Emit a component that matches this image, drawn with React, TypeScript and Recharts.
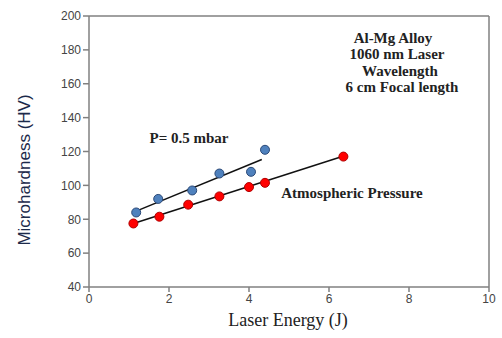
import React from 'react';
import { ScatterChart, Scatter, XAxis, YAxis, ReferenceLine, Customized } from 'recharts';

// measured points (Laser Energy J, Microhardness HV)
const lowPressurePts = [
  { x: 1.18, y: 84 },
  { x: 1.73, y: 92 },
  { x: 2.58, y: 97 },
  { x: 3.26, y: 107 },
  { x: 4.05, y: 108 },
  { x: 4.4, y: 121 },
];

const atmPressurePts = [
  { x: 1.11, y: 77.5 },
  { x: 1.76, y: 81.5 },
  { x: 2.48, y: 88.6 },
  { x: 3.26, y: 93.5 },
  { x: 4.0, y: 99 },
  { x: 4.4, y: 101.5 },
  { x: 6.36, y: 117 },
];

// fitted straight lines (end points)
const lowPressureFit = [
  { x: 1.18, y: 84.8 },
  { x: 4.32, y: 115.3 },
];
const atmPressureFit = [
  { x: 1.11, y: 77.5 },
  { x: 6.33, y: 117 },
];

const xTicks = [0, 2, 4, 6, 8, 10];
const yTicks = [40, 60, 80, 100, 120, 140, 160, 180, 200];
const infoLines = ['Al-Mg Alloy', '1060 nm Laser', 'Wavelength', '6 cm Focal length'];

const serif = '"Liberation Serif", "Times New Roman", serif';
const sans = '"Liberation Sans", Arial, sans-serif';
const axisColor = '#808080';

const NoShape = () => <g />;

const Annotations = () => (
  <g>
    <text x={24} y={170} transform="rotate(-90 24 170)" textAnchor="middle" dominantBaseline="central"
      fontFamily={sans} fontSize={17} fill="#1c2a4a">
      Microhardness (HV)
    </text>
    <text x={288} y={326} textAnchor="middle" fontFamily={serif} fontSize={18} fill="#222">
      Laser Energy (J)
    </text>
    {infoLines.map((t, i) => (
      <text key={t} x={[393, 397, 400, 402][i]} y={[43, 59, 76, 92][i]} textAnchor="middle"
        fontFamily={serif} fontWeight="bold" fontSize={15} fill="#222">
        {t}
      </text>
    ))}
    <text x={189} y={143} textAnchor="middle" fontFamily={serif} fontWeight="bold" fontSize={15} fill="#222">
      P= 0.5 mbar
    </text>
    <text x={352} y={198} textAnchor="middle" fontFamily={serif} fontWeight="bold" fontSize={15} fill="#222">
      Atmospheric Pressure
    </text>
  </g>
);

export default function App() {
  return (
    <div style={{ position: 'absolute', left: 0, top: 0, background: '#fff' }}>
      <ScatterChart width={502} height={338} margin={{ top: 16, right: 13, left: 39, bottom: 21 }}>
        <XAxis
          type="number"
          dataKey="x"
          domain={[0, 10]}
          ticks={xTicks}
          height={30}
          stroke={axisColor}
          strokeWidth={1.5}
          tickSize={5}
          tick={{ fontFamily: sans, fontSize: 12, fill: '#444' }}
          allowDataOverflow
        />
        <YAxis
          type="number"
          dataKey="y"
          domain={[40, 200]}
          ticks={yTicks}
          width={50}
          stroke={axisColor}
          strokeWidth={1.5}
          tickSize={6}
          tick={{ fontFamily: sans, fontSize: 12, fill: '#444' }}
          allowDataOverflow
        />
        <ReferenceLine y={200} stroke={axisColor} strokeWidth={1.5} />
        <ReferenceLine x={10} stroke={axisColor} strokeWidth={1.5} />
        <Scatter data={lowPressureFit} line={{ stroke: '#111', strokeWidth: 1.5 }} shape={NoShape} isAnimationActive={false} />
        <Scatter data={atmPressureFit} line={{ stroke: '#111', strokeWidth: 1.5 }} shape={NoShape} isAnimationActive={false} />
        <Scatter data={lowPressurePts} fill="#4f81bd" stroke="#2c4a78" strokeWidth={1}
          shape={(p: any) => <circle cx={p.cx} cy={p.cy} r={4.5} fill="#4f81bd" stroke="#2c4a78" strokeWidth={1} />}
          isAnimationActive={false} />
        <Scatter data={atmPressurePts} fill="#ff0000" stroke="#b00000" strokeWidth={1}
          shape={(p: any) => <circle cx={p.cx} cy={p.cy} r={4.5} fill="#ff0000" stroke="#b00000" strokeWidth={1} />}
          isAnimationActive={false} />
        <Customized component={Annotations} />
      </ScatterChart>
    </div>
  );
}
